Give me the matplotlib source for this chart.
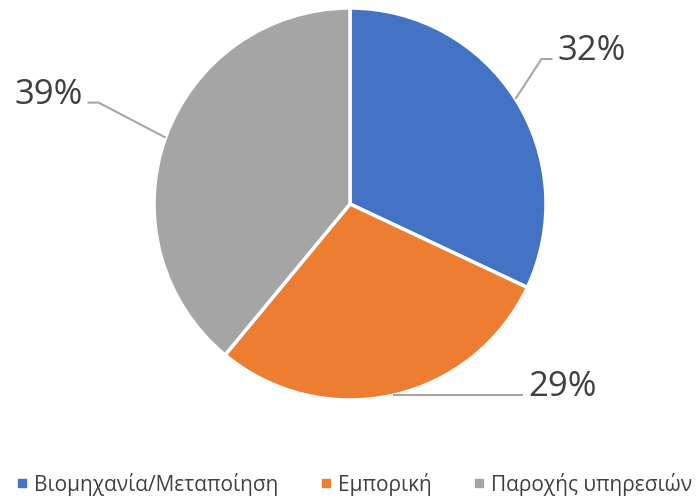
import numpy as np
import matplotlib.pyplot as plt
from matplotlib.lines import Line2D

categories = ["Βιομηχανία/Μεταποίηση", "Εμπορική", "Παροχής υπηρεσιών"]
values = [32, 29, 39]
colors = ["#4472C4", "#ED7D31", "#A5A5A5"]

plt.rcParams['font.family'] = ['Open Sans', 'DejaVu Sans']
TXT = "#404040"

fig = plt.figure(figsize=(6.97, 5.0), dpi=100)
ax = fig.add_axes([0, 0, 1, 1])
ax.set_xlim(0, 697)
ax.set_ylim(0, 500)
ax.set_aspect('equal')
ax.axis('off')

cx, cy, r = 350, 296, 196
wedges, _ = ax.pie(values, colors=colors, startangle=90, counterclock=False,
                   center=(cx, cy), radius=r,
                   wedgeprops=dict(edgecolor='white', linewidth=2.5))
ax.set_xlim(0, 697)
ax.set_ylim(0, 500)

total = sum(values)
labels = [f"{v / total * 100:.0f}%" for v in values]
# leader line elbow geometry (offsets from edge point) and text anchor
elbows = [
    [(26, 40), (37, 40)],
    [(0, 0), (130, 0)],
    [(-67, 35), (-78, 35)],
]
text_off = [(42, 40), (135, 0), (-83, 35)]
has = ['left', 'left', 'right']

for w, lab, el, to, ha in zip(wedges, labels, elbows, text_off, has):
    ang = np.deg2rad((w.theta1 + w.theta2) / 2)
    ex, ey = cx + r * np.cos(ang), cy + r * np.sin(ang)
    xs = [ex] + [ex + dx for dx, dy in el]
    ys = [ey] + [ey + dy for dx, dy in el]
    ax.plot(xs, ys, color="#A6A6A6", lw=1.5, solid_capstyle='butt')
    ax.text(ex + to[0], ey + to[1] - 1, lab, ha=ha, va='baseline',
            fontsize=25, color=TXT)

handles = [Line2D([0], [0], marker='s', linestyle='none', markersize=5.8,
                  markerfacecolor=c, markeredgecolor=c) for c in colors]
leg = fig.legend(handles, categories, loc='center', bbox_to_anchor=(355 / 697, 1 - 484 / 500),
                 ncol=3, frameon=False, fontsize=15.0, labelcolor=TXT,
                 handlelength=0.4, handletextpad=0.4, columnspacing=2.05,
                 borderaxespad=0, borderpad=0)

fig.savefig("out.png", dpi=100)
